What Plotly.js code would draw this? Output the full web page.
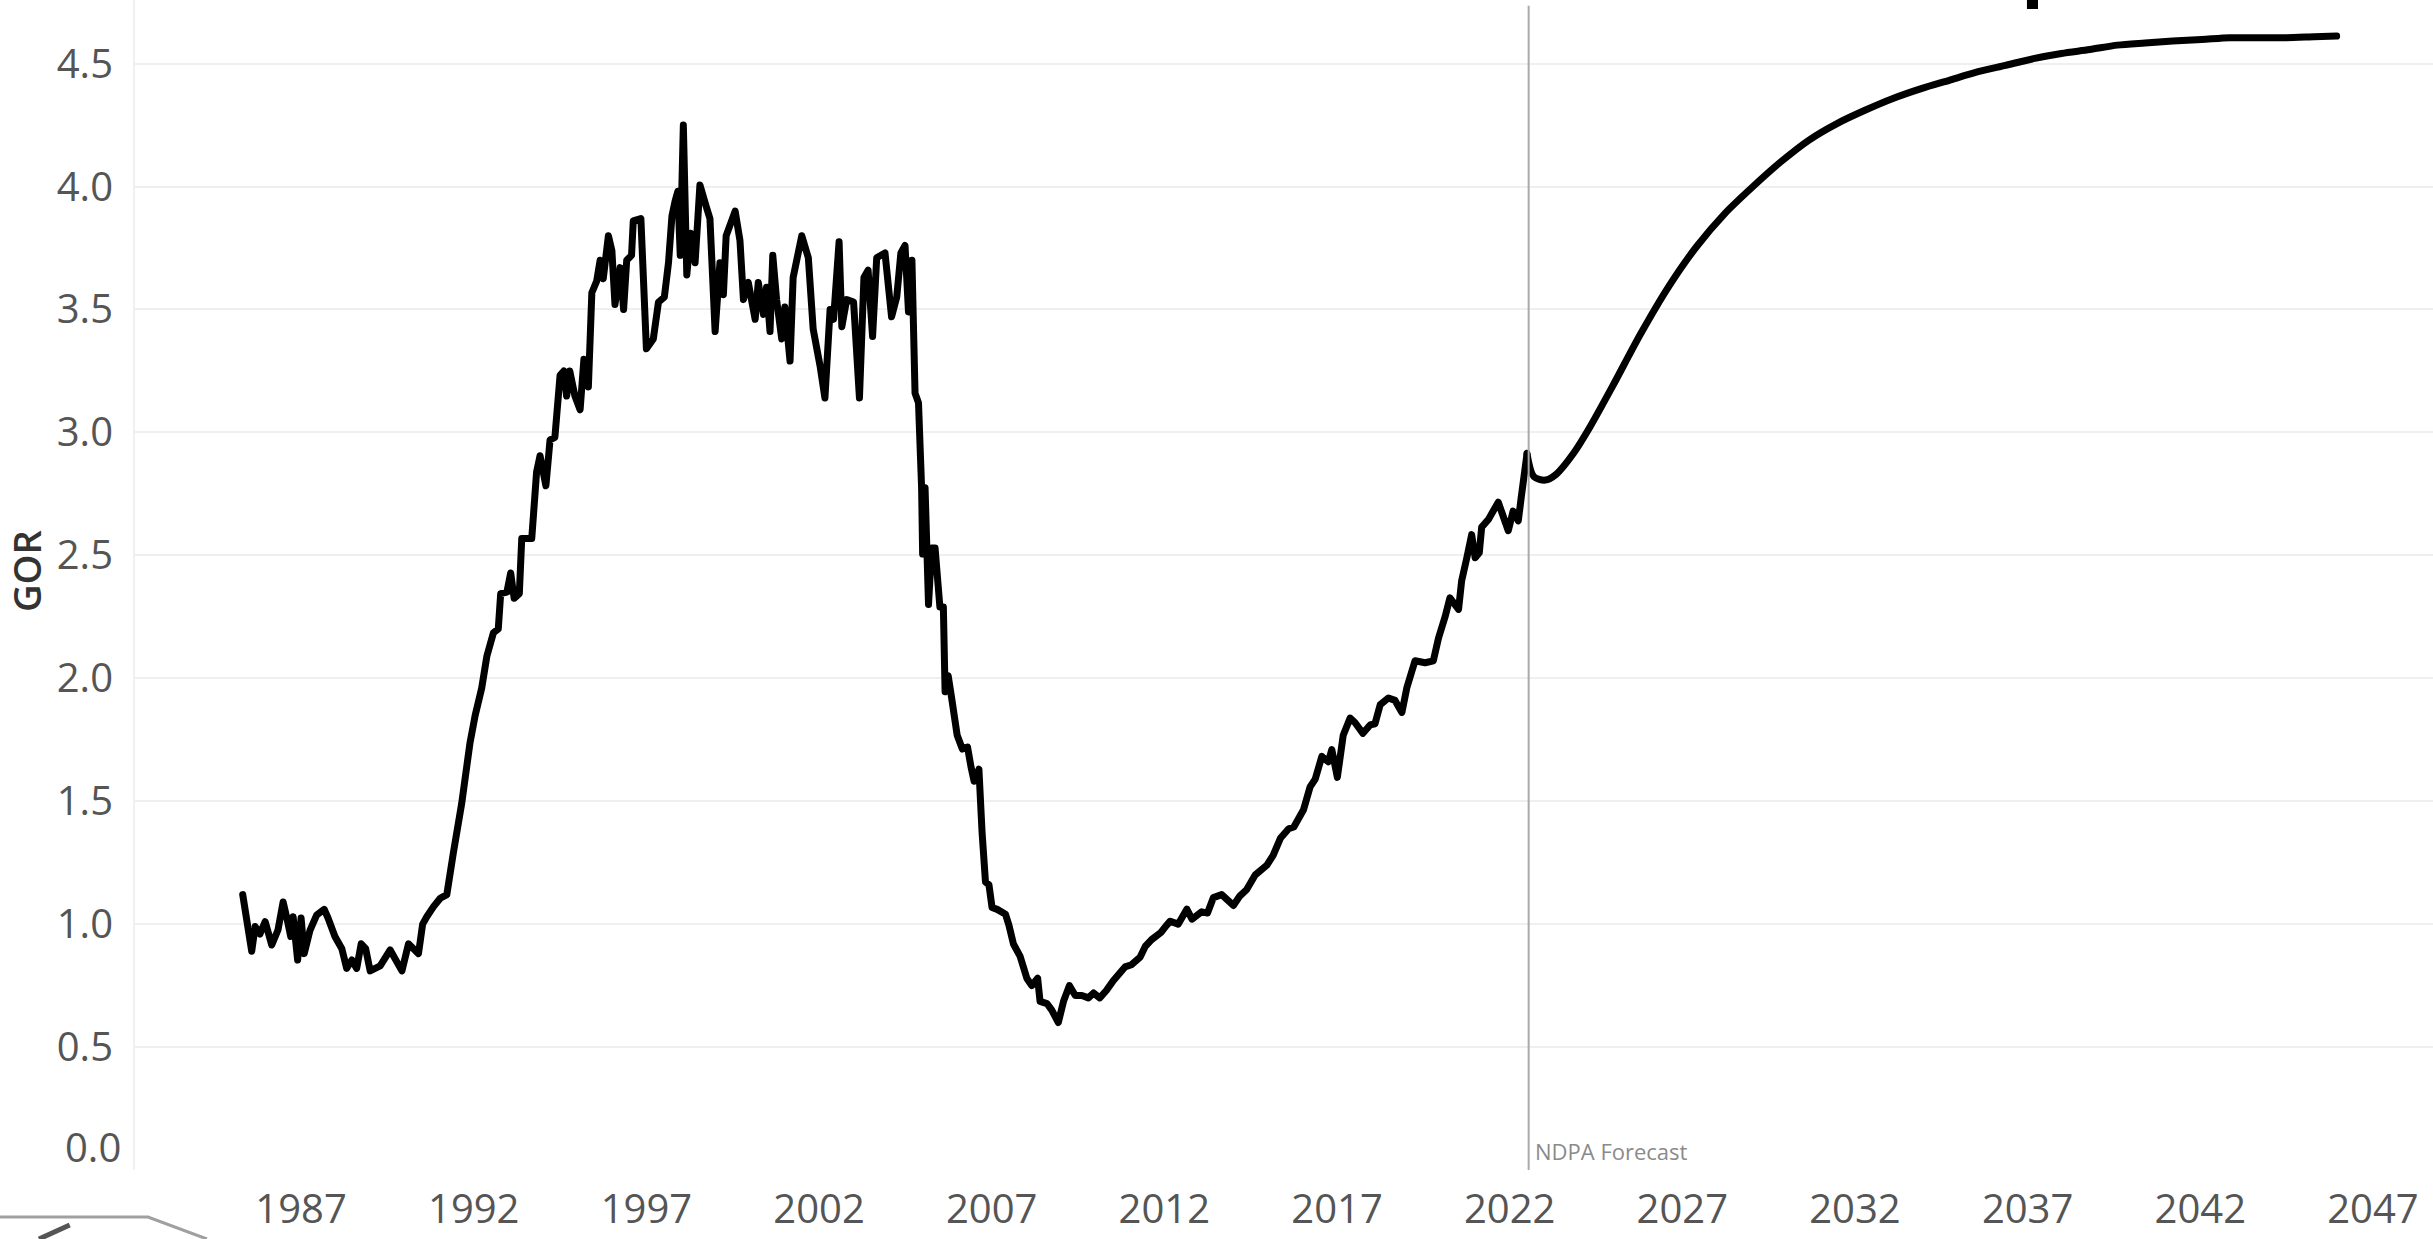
<!DOCTYPE html>
<html>
<head>
<meta charset="utf-8">
<script src="https://cdn.plot.ly/plotly-3.0.1.min.js"></script>
<style>
html,body{margin:0;padding:0;background:#fff;}
#chart{width:2433px;height:1239px;}
#chart path.js-line{stroke-linejoin:round;stroke-linecap:round;}
</style>
</head>
<body>
<div id="chart"></div>
<script>
// ---- Historical GOR (decimal year, value) ----
const histYears = [
1985.31,1985.57,1985.67,1985.81,1985.96,1986.15,1986.33,1986.48,1986.60,1986.70,1986.77,1986.90,
1987.00,1987.09,1987.26,1987.45,1987.67,1987.78,1987.98,1988.18,1988.32,1988.47,1988.61,1988.74,
1988.87,1989.00,1989.29,1989.58,1989.92,1990.11,1990.40,1990.52,1990.64,1990.83,1991.03,1991.22,
1991.41,1991.65,1991.89,1992.04,1992.23,1992.38,1992.57,1992.71,1992.78,1992.96,1993.07,1993.17,
1993.32,1993.39,1993.68,1993.82,1993.92,1994.09,1994.21,1994.35,1994.50,1994.61,1994.69,1994.78,
1994.93,1995.08,1995.19,1995.32,1995.42,1995.56,1995.66,1995.75,1995.90,1996.00,1996.09,1996.24,
1996.34,1996.43,1996.57,1996.62,1996.84,1997.00,1997.20,1997.35,1997.52,1997.64,1997.74,1997.83,
1997.91,1997.98,1998.07,1998.17,1998.28,1998.41,1998.55,1998.73,1998.84,1998.99,1999.13,1999.23,
1999.31,1999.57,1999.71,1999.81,1999.95,2000.15,2000.24,2000.39,2000.48,2000.58,2000.66,2000.77,
2000.92,2001.01,2001.16,2001.25,2001.50,2001.69,2001.83,2002.03,2002.17,2002.32,2002.42,2002.58,
2002.66,2002.80,2003.00,2003.17,2003.30,2003.42,2003.55,2003.67,2003.91,2004.10,2004.25,2004.37,
2004.49,2004.59,2004.69,2004.78,2004.88,2004.97,2005.00,2005.07,2005.17,2005.26,2005.36,2005.50,
2005.60,2005.65,2005.74,2005.84,2006.00,2006.15,2006.30,2006.40,2006.49,2006.63,2006.72,2006.82,
2006.92,2007.01,2007.16,2007.40,2007.50,2007.63,2007.82,2008.02,2008.16,2008.33,2008.40,2008.60,
2008.74,2008.93,2009.08,2009.25,2009.42,2009.61,2009.80,2009.95,2010.13,2010.32,2010.52,2010.86,
2011.05,2011.30,2011.45,2011.63,2011.90,2012.05,2012.17,2012.40,2012.65,2012.80,2013.08,2013.25,
2013.42,2013.66,2014.00,2014.19,2014.38,2014.63,2014.97,2015.15,2015.36,2015.60,2015.75,2016.03,
2016.22,2016.37,2016.56,2016.75,2016.85,2017.01,2017.18,2017.38,2017.52,2017.75,2017.96,2018.10,
2018.25,2018.49,2018.68,2018.88,2019.02,2019.26,2019.55,2019.79,2019.94,2020.13,2020.27,2020.52,
2020.61,2020.76,2020.90,2021.00,2021.12,2021.19,2021.38,2021.67,2021.81,2021.96,2022.10,2022.25,
2022.33,2022.50];
const histGor = [
1.12,0.89,0.99,0.96,1.01,0.915,0.976,1.09,1.017,0.95,1.03,0.854,
1.025,0.88,0.976,1.037,1.06,1.025,0.95,0.90,0.82,0.854,0.82,0.92,
0.90,0.81,0.83,0.895,0.81,0.92,0.88,1.00,1.03,1.07,1.105,1.12,
1.29,1.49,1.736,1.848,1.96,2.09,2.185,2.20,2.344,2.35,2.428,2.325,
2.344,2.568,2.568,2.839,2.905,2.783,2.97,2.98,3.232,3.25,3.148,3.25,
3.148,3.092,3.297,3.185,3.568,3.615,3.70,3.625,3.80,3.74,3.52,3.67,
3.50,3.70,3.72,3.86,3.87,3.34,3.38,3.53,3.55,3.69,3.88,3.94,
3.98,3.72,4.25,3.64,3.81,3.69,4.006,3.92,3.87,3.41,3.69,3.56,
3.80,3.90,3.78,3.54,3.61,3.46,3.61,3.48,3.59,3.41,3.72,3.54,
3.38,3.51,3.29,3.63,3.80,3.71,3.42,3.27,3.14,3.50,3.46,3.775,
3.43,3.54,3.53,3.14,3.63,3.66,3.39,3.71,3.73,3.47,3.55,3.73,
3.76,3.49,3.70,3.16,3.12,2.775,2.505,2.775,2.30,2.53,2.53,2.29,
2.29,1.945,2.01,1.92,1.768,1.712,1.72,1.64,1.581,1.63,1.376,1.171,
1.16,1.068,1.06,1.04,0.995,0.919,0.87,0.779,0.75,0.78,0.686,0.677,
0.65,0.60,0.686,0.75,0.71,0.71,0.70,0.72,0.70,0.73,0.77,0.826,
0.835,0.866,0.91,0.937,0.966,0.993,1.012,1.0,1.061,1.02,1.05,1.045,
1.108,1.12,1.076,1.115,1.14,1.20,1.24,1.28,1.349,1.388,1.395,1.465,
1.558,1.59,1.682,1.66,1.71,1.597,1.768,1.838,1.82,1.776,1.81,1.815,
1.892,1.92,1.91,1.861,1.96,2.071,2.063,2.071,2.164,2.25,2.327,2.28,
2.397,2.49,2.584,2.49,2.51,2.615,2.645,2.716,2.66,2.60,2.68,2.64,
2.73,2.91];

// ---- NDPA forecast ----
const fcYears = [2022.50,2022.70,2023.03,2023.35,2023.85,2024.33,2024.97,2025.79,2026.60,2027.41,
2028.23,2029.04,2029.85,2030.67,2031.48,2032.29,2033.10,2033.92,2034.73,2035.54,2036.36,2037.17,
2037.98,2038.80,2039.60,2040.40,2041.20,2042.04,2042.86,2043.67,2044.48,2045.30,2045.95];
const fcGor = [2.915,2.82,2.806,2.83,2.915,3.023,3.185,3.40,3.592,3.755,
3.89,3.999,4.10,4.189,4.256,4.31,4.358,4.398,4.432,4.466,4.493,4.52,
4.541,4.557,4.575,4.584,4.592,4.598,4.605,4.605,4.605,4.609,4.612];

// ---- Axes / labels ----
const xTickVals = [1987,1992,1997,2002,2007,2012,2017,2022,2027,2032,2037,2042,2047];
const xTickText = ['1987','1992','1997','2002','2007','2012','2017','2022','2027','2032','2037','2042','2047'];
const yTickVals = [0,0.5,1,1.5,2,2.5,3,3.5,4,4.5];
const yTickText = ['','0.5','1.0','1.5','2.0','2.5','3.0','3.5','4.0','4.5'];
const zeroLabel = '0.0';
const yTitle = 'GOR';
const forecastStart = 2022.55;
const forecastLabel = 'NDPA Forecast';

const tickFont = {family: 'Open Sans, Lato, sans-serif', size: 40, color: '#555555'};

const traces = [
  {x: histYears, y: histGor, type: 'scatter', mode: 'lines',
   line: {color: '#000', width: 7, shape: 'linear', simplify: false}, hoverinfo: 'x+y'},
  {x: fcYears, y: fcGor, type: 'scatter', mode: 'lines',
   line: {color: '#000', width: 7, shape: 'spline', smoothing: 0.8}, hoverinfo: 'x+y'}
];

const layout = {
  width: 2433, height: 1239,
  margin: {l: 135, r: 0, t: 0, b: 69, pad: 0},
  paper_bgcolor: '#fff', plot_bgcolor: '#fff',
  showlegend: false,
  xaxis: {range: [1982.19, 2048.74], tickvals: xTickVals, ticktext: xTickText,
          showgrid: false, zeroline: false, showline: false, ticks: '',
          tickfont: tickFont, ticklabelstandoff: 12},
  yaxis: {range: [0, 4.7586], tickvals: yTickVals, ticktext: yTickText,
          showgrid: true, gridcolor: '#efefef', gridwidth: 2,
          zeroline: false, showline: true, linecolor: '#f0f0f0', linewidth: 2,
          ticks: '', tickfont: tickFont, ticklabelstandoff: 12},
  shapes: [
    {type: 'line', xref: 'x', yref: 'paper', x0: forecastStart, x1: forecastStart,
     y0: 0, y1: 0.995, line: {color: '#aaaaaa', width: 2}},
    {type: 'rect', xref: 'paper', yref: 'paper', x0: 0.8233, x1: 0.8281, y0: 0.9923, y1: 1.0,
     fillcolor: '#000', line: {width: 0}},
    {type: 'path', xref: 'paper', yref: 'paper',
     path: 'M -0.0588 -0.0402 L 0.00566 -0.0402 L 0.0313 -0.059',
     line: {color: '#a0a0a0', width: 3}},
    {type: 'line', xref: 'paper', yref: 'paper', x0: -0.0418, y0: -0.059, x1: -0.0284, y1: -0.0470,
     line: {color: '#555', width: 5}}
  ],
  annotations: [
    {text: forecastLabel, xref: 'x', yref: 'paper', x: forecastStart, y: 0,
     xanchor: 'left', yanchor: 'bottom', xshift: 4, yshift: 2, showarrow: false,
     font: {family: 'Open Sans, sans-serif', size: 22, color: '#8a8a8a'}},
    {text: zeroLabel, xref: 'paper', yref: 'y', x: 0, y: 0, xanchor: 'right', yanchor: 'middle',
     xshift: -12, yshift: 24, showarrow: false, font: tickFont},
    {text: yTitle, xref: 'paper', yref: 'paper', x: -0.0474, y: 0.512, xanchor: 'center', yanchor: 'middle',
     textangle: -90, showarrow: false,
     font: {family: 'Open Sans, sans-serif', size: 38, color: '#333', weight: 600}}
  ]
};

Plotly.newPlot('chart', traces, layout, {displayModeBar: false, staticPlot: true});
</script>
</body>
</html>
